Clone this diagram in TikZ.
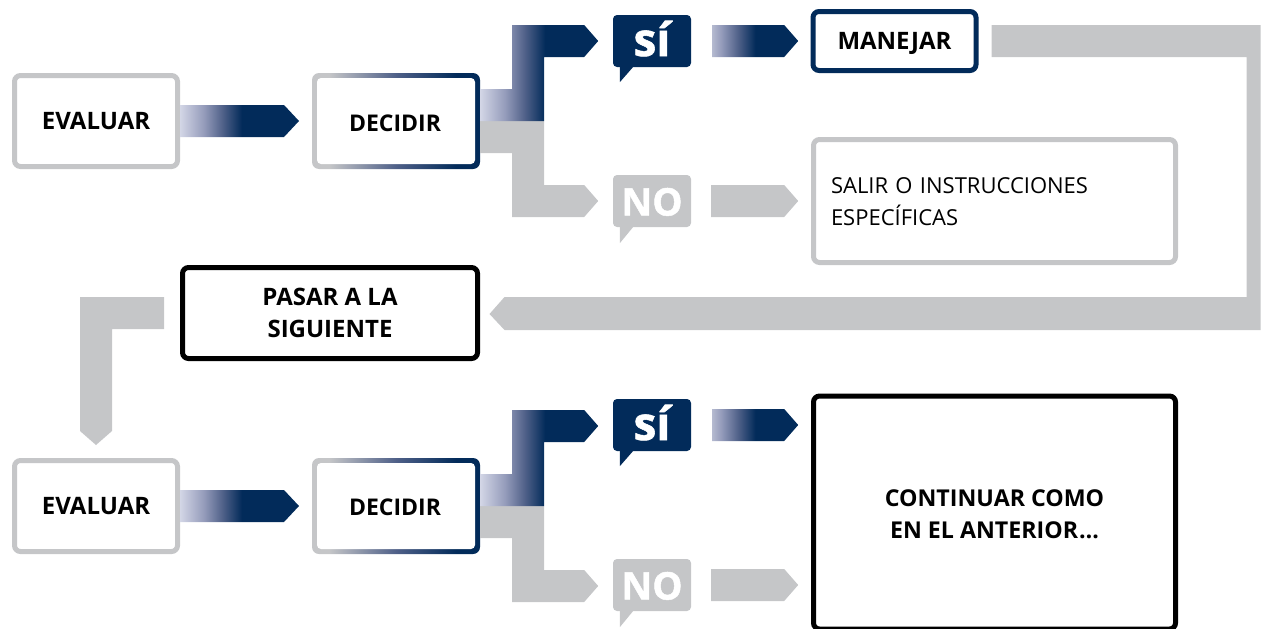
\documentclass[tikz,border=0pt]{standalone}
\usepackage{fontspec}
\setmainfont{Open Sans}
\newfontfamily\heavyfont[FakeBold=1.2]{Open Sans Bold}
\definecolor{navy}{HTML}{022B5A}
\definecolor{greyc}{HTML}{C5C6C8}
\definecolor{paleb}{HTML}{D3D6E6}
\definecolor{midb}{HTML}{959CBB}
\definecolor{deepb}{HTML}{4F6088}
\newcommand\capline[2]{\raisebox{-#1}[0pt][0pt]{#2}}
% a shading drawn on a path shows its stops from 25bp to 75bp across the path
\pgfdeclarehorizontalshading{fadearrow}{100bp}{color(0bp)=(paleb);color(25bp)=(paleb);color(35bp)=(midb);color(43bp)=(deepb);color(51bp)=(navy);color(100bp)=(navy)}
\pgfdeclarehorizontalshading{fadebend}{100bp}{color(0bp)=(paleb);color(25bp)=(paleb);color(35.5bp)=(midb);color(44bp)=(deepb);color(52.5bp)=(navy);color(100bp)=(navy)}
\pgfdeclarehorizontalshading{fadewhite}{100bp}{color(0bp)=(white);color(25bp)=(white);color(39bp)=(midb);color(47bp)=(deepb);color(55bp)=(navy);color(100bp)=(navy)}
\pgfdeclarehorizontalshading{borderfade}{100bp}{color(0bp)=(greyc);color(30bp)=(greyc);color(50bp)=(deepb);color(68bp)=(navy);color(100bp)=(navy)}
\tikzset{
  boxbase/.style={rectangle,rounded corners=6pt,line width=5pt,fill=white,inner sep=0pt,align=center,font=\fontsize{24}{32}\selectfont\bfseries},
  greybox/.style={boxbase,draw=greyc},
  navybox/.style={boxbase,draw=navy},
  blackbox/.style={boxbase,draw=black},
  fadebox/.style={rectangle,rounded corners=7pt,shading=borderfade,minimum width=168pt,minimum height=96pt,inner sep=0pt},
  fadeinner/.style={rectangle,rounded corners=4pt,fill=white,minimum width=158pt,minimum height=86pt,inner sep=0pt,font=\fontsize{23}{32}\selectfont\bfseries},
  smallbox/.style={minimum width=163pt,minimum height=91pt},
  bubble/.style={rectangle,rounded corners=4pt,minimum width=78pt,minimum height=52pt,inner sep=0pt,text=white},
  sifont/.style={font=\fontsize{46}{46}\selectfont\heavyfont},
  nofont/.style={font=\fontsize{38}{38}\selectfont\heavyfont},
  greyarrow/.style={fill=greyc,draw=none},
  navyarrow/.style={shading=fadearrow,draw=none},
  bendarrow/.style={shading=fadebend,draw=none},
  whitearrow/.style={shading=fadewhite,draw=none},
}
\begin{document}
\begin{tikzpicture}[x=1pt,y=-1pt]
\useasboundingbox (0,0) rectangle (1261,629);
% first row
\node[greybox,smallbox] (evalA) at (96,121) {\capline{8.6pt}{EVALUAR}};
\node[fadebox] (decA) at (396,121) {};
\node[fadeinner] (decAt) at (decA) {\capline{10.2pt}{DECIDIR}\hspace*{2pt}};
\node[bubble,sifont,fill=navy] (siA) at (652,41) {\capline{15pt}{sí}};
\node[bubble,nofont,fill=greyc] (noA) at (652,201) {\capline{14.5pt}{NO}};
\path[fill=navy] (siA.south west) ++(7,-1) -- ++(0,16) -- ++(14,-16) -- cycle;
\path[fill=greyc] (noA.south west) ++(7,-1) -- ++(0,17) -- ++(14,-17) -- cycle;
\node[navybox,minimum width=163pt,minimum height=59pt] (manejar) at (894.5,41) {\capline{8.6pt}{MANEJAR}};
\node[greybox,minimum width=362pt,minimum height=123pt,text width=327pt,align=left,font=\fontsize{22}{32}\selectfont] (salir) at (994.5,201) {\capline{8.9pt}{SALIR O INSTRUCCIONES}\\\capline{8.9pt}{ESPECÍFICAS}};
\node[blackbox,minimum width=295pt,minimum height=91pt] (pasar) at (330,313) {\capline{8.6pt}{PASAR A LA}\\\capline{8.6pt}{SIGUIENTE}};
% second row
\node[greybox,smallbox] (evalB) at (96,506) {\capline{8.6pt}{EVALUAR}};
\node[fadebox] (decB) at (396,506) {};
\node[fadeinner] (decBt) at (decB) {\capline{9.2pt}{DECIDIR}\hspace*{2pt}};
\node[bubble,sifont,fill=navy] (siB) at (652,425) {\capline{15pt}{sí}};
\node[bubble,nofont,fill=greyc] (noB) at (652,585) {\capline{14.5pt}{NO}};
\path[fill=navy] (siB.south west) ++(7,-1) -- ++(0,16) -- ++(14,-16) -- cycle;
\path[fill=greyc] (noB.south west) ++(7,-1) -- ++(0,17) -- ++(14,-17) -- cycle;
\node[blackbox,minimum width=362pt,minimum height=233pt,font=\fontsize{23.2}{32}\selectfont\bfseries] (cont) at (994.5,512.5) {\capline{9.8pt}{CONTINUAR COMO}\\\capline{9.8pt}{EN EL ANTERIOR\kern1pt…}};
% connectors, row 1
\path[navyarrow] (evalA.east) ++(0,-16) -- ++(104,0) -- ++(15,16) -- ++(-15,16) -- ++(-104,0) -- cycle;
\path[greyarrow] (decA.east) -- ++(64,0) -- ++(0,64) -- ++(40,0) -- ++(14,16) -- ++(-14,16) -- ++(-72,0) -- ++(0,-64) -- ++(-32,0) -- cycle;
\path[bendarrow] (decA.east) ++(0,-32) -- ++(32,0) -- ++(0,-64) -- ++(72,0) -- ++(14,16) -- ++(-14,16) -- ++(-40,0) -- ++(0,64) -- ++(-64,0) -- cycle;
\path[whitearrow] (siA.east) ++(21,-16) -- ++(72,0) -- ++(14,16) -- ++(-14,16) -- ++(-72,0) -- cycle;
\path[greyarrow] (noA.east) ++(20,-16) -- ++(73,0) -- ++(14,16) -- ++(-14,16) -- ++(-73,0) -- cycle;
\path[greyarrow] (manejar.east) ++(13,-16) -- ++(269,0) -- ++(0,305) -- ++(-756,0) -- ++(-15,-16) -- ++(15,-17) -- ++(742,0) -- ++(0,-240) -- ++(-255,0) -- cycle;
\path[greyarrow] (pasar.west) ++(-16,-16) -- ++(-84,0) -- ++(0,134) -- ++(16,14) -- ++(16,-14) -- ++(0,-102) -- ++(52,0) -- cycle;
% connectors, row 2
\path[navyarrow] (evalB.east) ++(0,-16) -- ++(104,0) -- ++(15,16) -- ++(-15,16) -- ++(-104,0) -- cycle;
\path[greyarrow] (decB.east) -- ++(64,0) -- ++(0,64) -- ++(40,0) -- ++(14,16) -- ++(-14,16) -- ++(-72,0) -- ++(0,-64) -- ++(-32,0) -- cycle;
\path[bendarrow] (decB.east) ++(0,-32) -- ++(32,0) -- ++(0,-64) -- ++(72,0) -- ++(14,16) -- ++(-14,16) -- ++(-40,0) -- ++(0,64) -- ++(-64,0) -- cycle;
\path[whitearrow] (siB.east) ++(21,-16) -- ++(72,0) -- ++(14,16) -- ++(-14,16) -- ++(-72,0) -- cycle;
\path[greyarrow] (noB.east) ++(20,-16) -- ++(73,0) -- ++(14,16) -- ++(-14,16) -- ++(-73,0) -- cycle;
\end{tikzpicture}
\end{document}
